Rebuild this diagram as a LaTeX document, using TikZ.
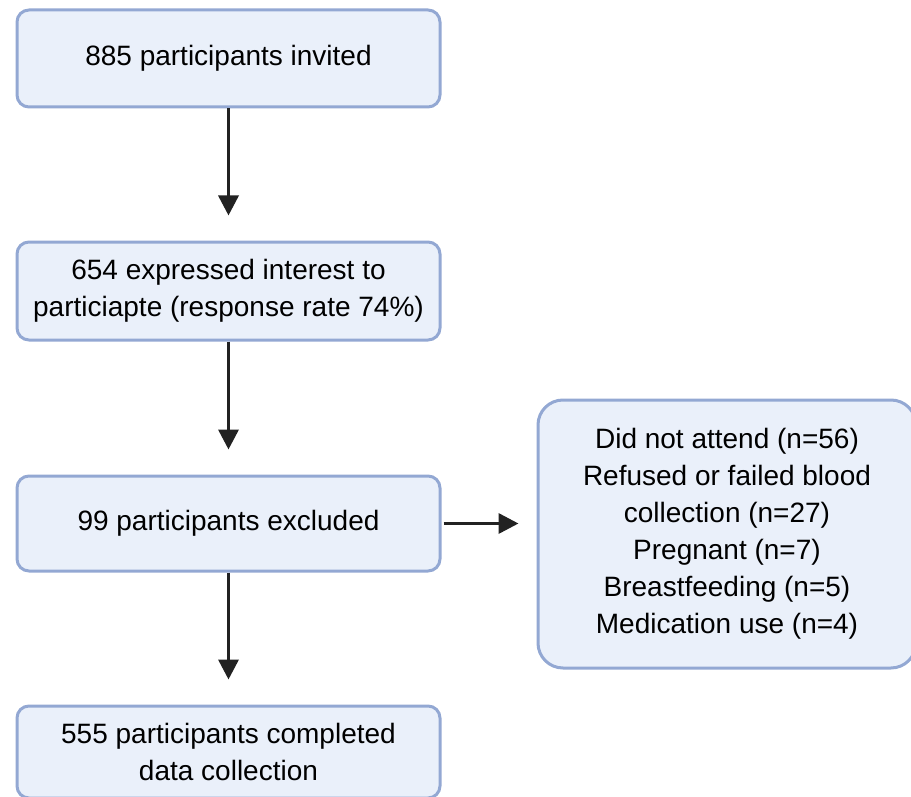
\documentclass[tikz,border=0pt]{standalone}
\usepackage{fontspec}
\setmainfont{Liberation Sans}
\usetikzlibrary{arrows.meta}
\definecolor{boxfill}{HTML}{EAF0FA}
\definecolor{boxline}{HTML}{93A8D3}
\definecolor{arrowcol}{HTML}{222222}
\begin{document}
\begin{tikzpicture}[x=1pt, y=-1pt,
	box/.style={draw=boxline, fill=boxfill, line width=3pt, rounded corners=12pt,
		minimum width=423pt, align=center, inner sep=0pt,
		font=\fontsize{28}{37}\selectfont},
	arr/.style={draw=arrowcol, line width=3.5pt, -{Triangle[length=20pt, width=20pt]}}]

	\useasboundingbox (0,0) rectangle (911,797);

	\node[box, minimum height=97pt]  (invited)  at (228.5,58.5)  {885 participants invited};
	\node[box, minimum height=98pt]  (interest) at (228.5,291)   {654 expressed interest to\\particiapte (response rate 74\%)};
	\node[box, minimum height=95pt]  (excluded) at (228.5,523.5) {99 participants excluded};
	\node[box, minimum height=92pt]  (complete) at (228.5,752)   {555 participants completed\\data collection};
	\node[box, minimum height=268pt, minimum width=378pt, rounded corners=25pt]
		(reasons) at (727,534) {Did not attend (n=56)\\Refused or failed blood\\collection (n=27)\\Pregnant (n=7)\\Breastfeeding (n=5)\\Medication use (n=4)};

	\draw[arr, shorten >=25pt] (invited.south) -- (interest.north);
	\draw[arr, shorten >=25pt] (interest.south) -- (excluded.north);
	\draw[arr, shorten >=25pt] (excluded.south) -- (complete.north);
	\draw[arr, shorten <=2pt, shorten >=18pt] (excluded.east) -- (excluded.east -| reasons.west);

\end{tikzpicture}
\end{document}
